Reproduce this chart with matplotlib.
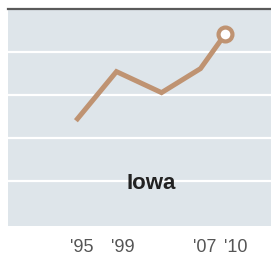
import matplotlib
matplotlib.use("Agg")
import matplotlib.pyplot as plt

# data (year, index value)
years = [1994.6, 1998.4, 2002.8, 2006.6, 2009.0]
values = [2.44, 3.54, 3.05, 3.61, 4.41]
tick_years = [1995, 1999, 2007, 2010]
tick_labels = ["'95", "'99", "'07", "'10"]
state = "Iowa"

LINE = "#bf9372"
BG = "#dee5ea"

fig = plt.figure(figsize=(2.71, 2.55), dpi=100)
ax = fig.add_axes([8 / 271, 28 / 255, 1 - 8 / 271, 217 / 255])
ax.set_facecolor(BG)

ax.plot(years, values, color=LINE, lw=3.6, solid_joinstyle="miter", zorder=3)
ax.plot(years[-1], values[-1], "o", ms=10, mfc="white", mec=LINE, mew=3.0, zorder=4)

ax.set_xlim(1987.82, 2013.48)
ax.set_ylim(-0.06, 5.0)
ax.set_yticks([1, 2, 3, 4])
ax.yaxis.grid(True, color="white", lw=1.6)
ax.set_axisbelow(True)
ax.tick_params(axis="y", left=False, labelleft=False)
ax.set_xticks(tick_years)
ax.set_xticklabels(tick_labels, fontsize=13, color="#555555", family="Liberation Sans")
ax.tick_params(axis="x", length=0, pad=8.5)

for s in ["left", "right", "bottom"]:
    ax.spines[s].set_visible(False)
ax.spines["top"].set_color("#5a5a5a")
ax.spines["top"].set_linewidth(1.6)

ax.text(2001.8, 0.95, state, ha="center", va="center", fontsize=16,
        fontweight="bold", color="#222222", family="Liberation Sans")

fig.savefig("out.png", dpi=100)
